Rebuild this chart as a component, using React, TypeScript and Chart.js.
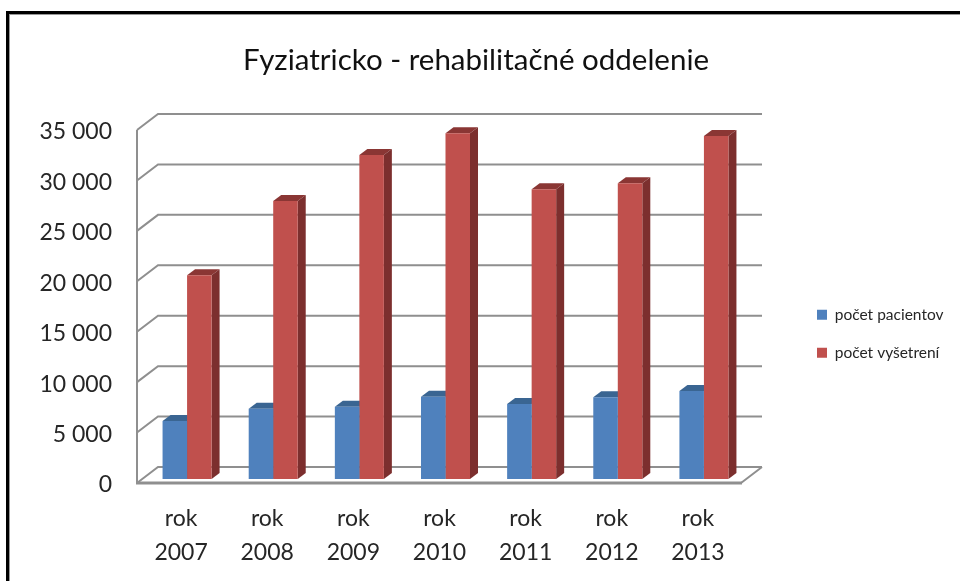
import React, { useEffect, useRef } from "react";
import { Chart, registerables } from "chart.js";

Chart.register(...registerables);

const titleText = "Fyziatricko - rehabilitačné oddelenie";
const categories = [
  ["rok", "2007"], ["rok", "2008"], ["rok", "2009"], ["rok", "2010"],
  ["rok", "2011"], ["rok", "2012"], ["rok", "2013"],
];
const pacienti = [5750, 6970, 7170, 8160, 7440, 8100, 8720];
const vysetrenia = [20200, 27560, 32120, 34280, 28720, 29320, 34010];

const BLUE = "#4F81BD";
const RED = "#C0504D";
const BLUE_TOP = "#3A6592";
const BLUE_SIDE = "#2F5480";
const RED_TOP = "#8A3634";
const RED_SIDE = "#7C2F2E";
const GRID = "#8F8F8F";
const TEXT = "#262626";
const FONT = "Lato";

const BAR_DX = 8;
const BAR_DY = -6;

const frame3d = {
  id: "frame3d",
  beforeLayout(chart: any) {
    const legend = chart.legend;
    if (legend && !legend.__patched) {
      const orig = legend.fit;
      legend.fit = function () {
        orig.call(this);
        this.width = 205;
      };
      legend.__patched = true;
    }
  },
  afterLayout(chart: any) {
    const legend = chart.legend;
    legend.left = 817 - 22.5;
    legend.right = 952;
    legend.top = 307 - 22.5;
    legend.bottom = 560;
  },
  beforeDatasetsDraw(chart: any) {
    const { ctx, scales } = chart;
    const y = scales.y;
    const fl = chart.chartArea.left - 7;
    const fr = chart.chartArea.right - 6;
    const bl = fl + 21;
    const br = fr + 21;
    ctx.save();
    ctx.strokeStyle = GRID;
    ctx.lineWidth = 2;
    ctx.beginPath();
    y.ticks.forEach((t: any) => {
      const py = y.getPixelForValue(t.value) + 4;
      ctx.moveTo(fl, py);
      ctx.lineTo(bl, py - 16);
      ctx.lineTo(br, py - 16);
    });
    const yTop = y.getPixelForValue(y.max) + 4;
    const yBase = y.getPixelForValue(0) + 4;
    ctx.moveTo(fl, yTop);
    ctx.lineTo(fl, yBase);
    ctx.moveTo(fr, yBase);
    ctx.lineTo(br, yBase - 16);
    ctx.stroke();
    ctx.lineWidth = 3;
    ctx.beginPath();
    ctx.moveTo(fl - 1, yBase);
    ctx.lineTo(fr + 1, yBase);
    ctx.stroke();

    const shades = [
      [BLUE_TOP, BLUE_SIDE],
      [RED_TOP, RED_SIDE],
    ];
    chart.data.datasets.forEach((_: any, i: number) => {
      chart.getDatasetMeta(i).data.forEach((el: any) => {
        const l = el.x - el.width / 2;
        const r = el.x + el.width / 2;
        ctx.fillStyle = shades[i][0];
        ctx.beginPath();
        ctx.moveTo(l, el.y);
        ctx.lineTo(l + BAR_DX, el.y + BAR_DY);
        ctx.lineTo(r + BAR_DX, el.y + BAR_DY);
        ctx.lineTo(r, el.y);
        ctx.closePath();
        ctx.fill();
        ctx.fillStyle = shades[i][1];
        ctx.beginPath();
        ctx.moveTo(r, el.y);
        ctx.lineTo(r + BAR_DX, el.y + BAR_DY);
        ctx.lineTo(r + BAR_DX, el.base + BAR_DY);
        ctx.lineTo(r, el.base);
        ctx.closePath();
        ctx.fill();
      });
    });
    ctx.restore();
  },
};

export default function App() {
  const ref = useRef<HTMLCanvasElement>(null);
  useEffect(() => {
    const chart = new Chart(ref.current as HTMLCanvasElement, {
      type: "bar",
      data: {
        labels: categories,
        datasets: [
          { label: "počet pacientov", data: pacienti, backgroundColor: BLUE, borderWidth: 0 },
          { label: "počet vyšetrení", data: vysetrenia, backgroundColor: RED, borderWidth: 0 },
        ],
      },
      options: {
        responsive: false,
        animation: false,
        layout: { autoPadding: false, padding: 0 },
        datasets: { bar: { categoryPercentage: 0.569, barPercentage: 1 } },
        scales: {
          x: {
            grid: { display: false, drawTicks: false },
            border: { display: false },
            afterFit(s: any) { s.height = 102; },
            ticks: {
              autoSkip: false,
              maxRotation: 0,
              padding: 22,
              labelOffset: -6,
              color: TEXT,
              font: { family: FONT, size: 23, lineHeight: 1.5 },
            },
          },
          y: {
            min: 0,
            max: 35000,
            afterFit(s: any) { s.width = 144; },
            grid: { display: false, drawTicks: false },
            border: { display: false },
            ticks: {
              stepSize: 5000,
              padding: 32,
              labelOffset: 6,
              color: TEXT,
              font: { family: FONT, size: 23 },
              callback: (v: any) => (v === 0 ? "0" : String(v).replace(/(\d{3})$/, " $1")),
            },
          },
        },
        plugins: {
          title: {
            display: true,
            text: titleText,
            color: "#111111",
            font: { family: FONT, size: 29.5, weight: "normal" },
            padding: { top: 43, bottom: 47.6 },
          },
          legend: {
            position: "right",
            align: "start",
            labels: {
              boxWidth: 10,
              boxHeight: 10,
              padding: 22.5,
              color: TEXT,
              font: { family: FONT, size: 15.5 },
            },
          },
          tooltip: { enabled: false },
        },
      } as any,
      plugins: [frame3d],
    });
    return () => chart.destroy();
  }, []);
  return (
    <div style={{ position: "fixed", inset: 0, overflow: "hidden", background: "#fff" }}>
      <div
        style={{
          position: "absolute",
          left: 6,
          top: 11,
          width: 1000,
          height: 700,
          boxSizing: "border-box",
          border: "3px solid #000",
          outline: "1px solid #999",
          outlineOffset: -4,
        }}
      />
      <canvas ref={ref} width={952} height={581} style={{ position: "absolute", left: 0, top: 0, display: "block" }} />
    </div>
  );
}
